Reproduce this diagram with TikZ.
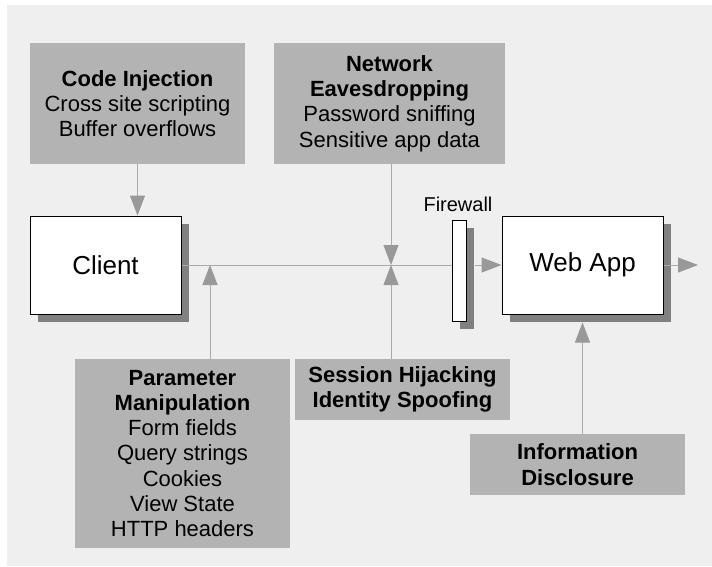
\documentclass[tikz,border=0pt]{standalone}
\usepackage{fontspec}
\setmainfont{Liberation Sans}
\usepackage{xcolor}
\usepackage{tikz}
\usetikzlibrary{arrows.meta,shadows}
\definecolor{bgcol}{HTML}{EFEFEF}
\definecolor{threatcol}{HTML}{B3B3B3}
\definecolor{shadecol}{HTML}{808080}
\definecolor{linecol}{HTML}{AAAAAA}
\definecolor{tipcol}{HTML}{999999}
\tikzset{
  box/.style={align=center, inner sep=2pt, font=\fontsize{22}{25.3}\selectfont},
  threat/.style={box, fill=threatcol, minimum width=215pt},
  host/.style={box, draw=black, line width=1pt, fill=white,
               font=\fontsize{26}{30}\selectfont,
               drop shadow={shadow xshift=8pt, shadow yshift=-8pt, fill=shadecol, opacity=1}},
  flow/.style={-{Triangle[length=20pt, width=15pt, color=tipcol]}, draw=linecol, line width=1pt},
  link/.style={draw=linecol, line width=1pt},
  lbl/.style={font=\fontsize{20}{24}\selectfont},
}
\begin{document}
\begin{tikzpicture}[x=1pt, y=-1pt]
  \useasboundingbox (0,0) rectangle (712,566);
  \fill[bgcol] (7,5) rectangle (712,566);
  \node[threat, minimum height=121pt] (inj) at (137.5,103.5)
    {\textbf{Code Injection}\\Cross site scripting\\Buffer overflows};
  \node[threat, minimum width=231pt, minimum height=121pt] (eaves) at (389.5,103.5)
    {\textbf{Network}\\\textbf{Eavesdropping}\\Password sniffing\\Sensitive app data};
  \node[host, minimum width=151pt, minimum height=98pt] (client) at (105.5,265) {Client};
  \node[host, minimum width=14pt, minimum height=101pt, inner sep=0pt] (fw) at (459,270.5) {};
  \node[lbl, anchor=base] (fwlbl) at (458,211) {Firewall};
  \node[host, minimum width=161pt, minimum height=98pt] (web) at (582.5,265) {Web App};
  \node[threat, minimum height=189pt] (param) at (182.5,453.5)
    {\textbf{Parameter}\\\textbf{Manipulation}\\Form fields\\Query strings\\Cookies\\View State\\HTTP headers};
  \node[threat, minimum height=61pt] (sess) at (402.5,389.5)
    {\textbf{Session Hijacking}\\\textbf{Identity Spoofing}};
  \node[threat, minimum height=61pt] (info) at (577.5,464.5)
    {\textbf{Information}\\\textbf{Disclosure}};
  \coordinate (pj) at (210,265);
  \coordinate (sj) at (391,265);
  \coordinate (out) at (698,265);
  \draw[link] (client.east) -- (client.east -| fw.west);
  \draw[flow] (inj.south) -- (inj.south |- client.north);
  \draw[flow] (eaves.south -| sj) -- (sj);
  \draw[flow] (sess.north -| sj) -- (sj);
  \draw[flow] (param.north -| pj) -- (pj);
  \draw[flow] ([xshift=8pt]fw.east |- sj) -- (web.west);
  \draw[flow] (web.east) -- (out);
  \draw[flow] (info.north -| web.south) -- ([yshift=-8pt]web.south);
\end{tikzpicture}
\end{document}
